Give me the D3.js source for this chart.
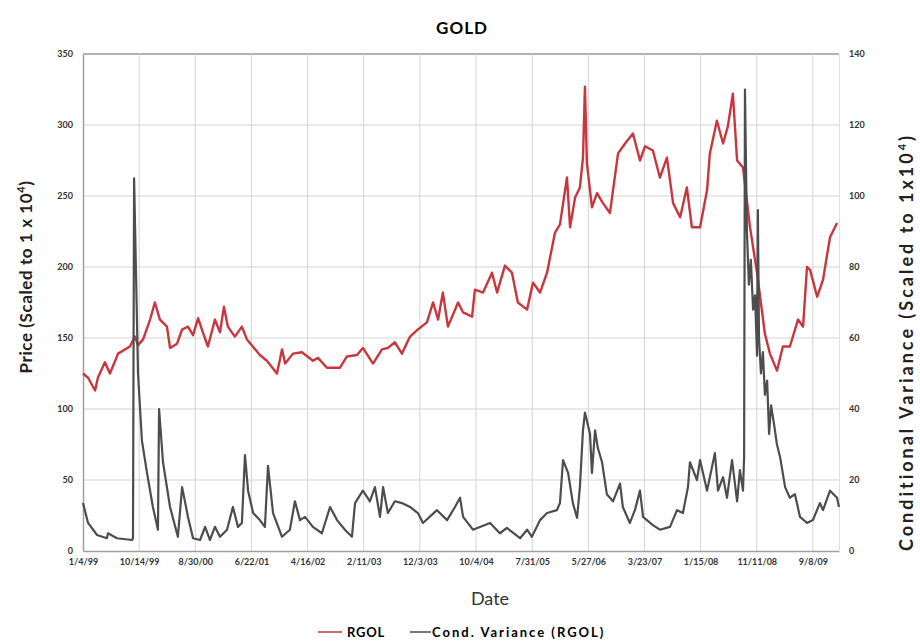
<!DOCTYPE html>
<html>
<head>
<meta charset="utf-8">
<script src="https://cdn.jsdelivr.net/npm/d3@7"></script>
<style>
  body { margin: 0; background: #fff; }
  text { font-family: Lato, "Open Sans", sans-serif; }
  .tick text { font-size: 9px; font-weight: bold; fill: #333; }
</style>
</head>
<body>
<script>
// x labels sit every 200 observations
var xTickLabels = ["1/4/99", "10/14/99", "8/30/00", "6/22/01", "4/16/02", "2/11/03", "12/3/03",
                   "10/4/04", "7/31/05", "5/27/06", "3/23/07", "1/15/08", "11/11/08", "9/8/09"];
var obsPerTick = 200;
var lastObs = 2693;

var leftTicks = [0, 50, 100, 150, 200, 250, 300, 350];
var rightTicks = [0, 20, 40, 60, 80, 100, 120, 140];

// RGOL price (left axis)
var priceDays = [0, 18, 43, 53, 78, 96, 125, 167, 185, 196, 214, 239, 256, 274, 299, 310, 335, 353, 374, 392,
  410, 427, 445, 470, 488, 502, 516, 541, 566, 584, 630, 655, 691, 709, 720, 748, 780, 819, 837, 869,
  915, 940, 976, 997, 1033, 1065, 1086, 1111, 1136, 1165, 1193, 1225, 1247, 1265, 1282, 1300, 1336, 1354, 1386, 1396,
  1425, 1457, 1475, 1503, 1528, 1549, 1582, 1603, 1628, 1653, 1681, 1699, 1724, 1735, 1753, 1770, 1781, 1788, 1795, 1813,
  1831, 1852, 1877, 1888, 1906, 1931, 1959, 1984, 2002, 2030, 2055, 2080, 2102, 2127, 2151, 2169, 2198, 2223, 2233, 2258,
  2280, 2297, 2315, 2330, 2351, 2376, 2401, 2429, 2447, 2472, 2493, 2518, 2547, 2565, 2579, 2590, 2615, 2636, 2661, 2686];
var priceValues = [125, 122, 113, 122, 133, 125, 139, 144, 151, 145, 149, 163, 175, 163, 158, 143, 146, 156, 158, 152,
  164, 154, 144, 163, 154, 172, 158, 151, 158, 149, 138, 134, 125, 142, 132, 139, 140, 134, 136, 129,
  129, 137, 138, 143, 132, 142, 143, 147, 139, 151, 156, 161, 175, 163, 182, 158, 175, 168, 165, 184,
  182, 196, 182, 201, 196, 175, 170, 189, 182, 196, 224, 230, 263, 228, 249, 256, 277, 327, 273, 242,
  252, 245, 238, 254, 280, 287, 294, 275, 285, 282, 263, 277, 245, 235, 256, 228, 228, 254, 280, 303,
  287, 299, 322, 275, 270, 228, 196, 153, 139, 127, 144, 144, 163, 158, 200, 198, 179, 191, 221, 231];

// conditional variance (right axis)
var varianceDays = [0, 18, 50, 85, 89, 121, 175, 178, 182, 196, 210, 228, 249, 267, 271, 285, 310, 338, 353, 363,
  374, 392, 417, 435, 452, 470, 488, 513, 534, 552, 566, 577, 588, 606, 630, 648, 659, 677, 709, 737,
  755, 773, 791, 819, 851, 880, 905, 933, 958, 969, 997, 1022, 1040, 1058, 1069, 1086, 1111, 1136, 1165, 1193,
  1211, 1261, 1297, 1325, 1343, 1354, 1389, 1450, 1485, 1510, 1557, 1582, 1599, 1628, 1653, 1688, 1699, 1710, 1728, 1745,
  1760, 1770, 1781, 1788, 1806, 1813, 1824, 1834, 1849, 1866, 1888, 1913, 1923, 1948, 1966, 1984, 1995, 2030, 2055, 2091,
  2116, 2137, 2155, 2162, 2187, 2198, 2223, 2251, 2262, 2280, 2294, 2312, 2330, 2340, 2351, 2355, 2358, 2365, 2372, 2379,
  2387, 2394, 2401, 2404, 2408, 2415, 2422, 2429, 2437, 2444, 2451, 2461, 2472, 2483, 2501, 2518, 2536, 2554, 2579, 2600,
  2625, 2636, 2661, 2686, 2693];
var varianceValues = [13.5, 7.9, 4.5, 3.6, 5, 3.6, 3.1, 3.6, 105, 50, 31, 22, 12.4, 6, 40, 25, 12.4, 4, 18, 14,
  9.6, 3.6, 3.1, 6.8, 3.1, 6.8, 4, 6, 12.4, 6.8, 7.9, 27, 17, 10.7, 8.7, 6.8, 24, 10.7, 4, 6,
  14, 8.7, 9.6, 6.8, 5, 12.4, 8.7, 6, 4, 13.5, 17, 14, 18, 9.6, 18, 10.7, 14, 13.5, 12.4, 10.7,
  7.9, 11.5, 8.7, 12.4, 15, 9.6, 6, 7.9, 5, 6.5, 3.6, 6, 4, 8.7, 10.7, 11.5, 13.5, 25.6, 22, 13.5,
  9.3, 18, 34, 39, 33, 22, 34, 29, 25, 16, 14, 19, 12.4, 7.9, 11.5, 17, 9.6, 7.3, 6, 6.8,
  11.5, 10.7, 18, 25, 20, 25.6, 17, 27.6, 17, 20.8, 15, 25.6, 14, 22.8, 17, 26.5, 130, 90, 75, 82,
  68, 72, 55, 96, 60, 50, 56, 44, 48, 33, 41, 36, 30, 26.5, 18, 15, 16, 9.6, 7.9, 8.7,
  13.5, 11.5, 17, 15, 12.4];

var width = 920,
    height = 644,
    marginLeft = 83,
    marginTop = 54,
    marginRight = 81,
    marginBottom = 93,
    chartWidth = width - marginLeft - marginRight,
    chartHeight = height - marginTop - marginBottom;

var svg = d3.select("body")
    .append("svg")
    .attr("width", width)
    .attr("height", height);

var chart = svg.append("g")
    .attr("transform", "translate(" + marginLeft + "," + marginTop + ")");

var xScale = d3.scaleLinear()
    .domain([0, lastObs])
    .range([0, chartWidth]);
var yLeft = d3.scaleLinear()
    .domain([0, 350])
    .range([chartHeight, 0]);
var yRight = d3.scaleLinear()
    .domain([0, 140])
    .range([chartHeight, 0]);

var tickObs = xTickLabels.map(function(d, i) { return i * obsPerTick; });

// grid
chart.append("g")
    .selectAll("line")
    .data(leftTicks.slice(1))
    .enter()
    .append("line")
        .attr("x1", 0)
        .attr("x2", chartWidth)
        .attr("y1", function(d) { return yLeft(d); })
        .attr("y2", function(d) { return yLeft(d); })
        .attr("stroke", function(d) { return d === 350 ? "#9a9a9a" : "#d4d4d4"; })
        .attr("stroke-width", function(d) { return d === 350 ? 1.5 : 1; });

chart.append("g")
    .selectAll("line")
    .data(tickObs.slice(1))
    .enter()
    .append("line")
        .attr("x1", function(d) { return xScale(d); })
        .attr("x2", function(d) { return xScale(d); })
        .attr("y1", 0)
        .attr("y2", chartHeight)
        .attr("stroke", "#d4d4d4");

// axes
var xAxis = d3.axisBottom(xScale)
    .tickValues(tickObs)
    .tickFormat(function(d, i) { return xTickLabels[i]; })
    .tickSize(0)
    .tickPadding(8);
chart.append("g")
    .attr("class", "x axis")
    .attr("transform", "translate(0," + chartHeight + ")")
    .call(xAxis);

var yAxisLeft = d3.axisLeft(yLeft)
    .tickValues(leftTicks)
    .tickSize(0)
    .tickPadding(10);
chart.append("g")
    .attr("class", "y axis")
    .call(yAxisLeft);

var yAxisRight = d3.axisRight(yRight)
    .tickValues(rightTicks)
    .tickSize(0)
    .tickPadding(10);
chart.append("g")
    .attr("class", "y axis right")
    .attr("transform", "translate(" + chartWidth + ",0)")
    .call(yAxisRight);

chart.selectAll(".axis path")
    .attr("stroke", "#a0a0a0")
    .attr("stroke-width", 1.5);
chart.select(".right path").attr("stroke", "#e0e0e0").attr("stroke-width", 1);

// lines
var priceData = priceDays.map(function(d, i) { return [d, priceValues[i]]; });
var varianceData = varianceDays.map(function(d, i) { return [d, varianceValues[i]]; });

var priceLine = d3.line()
    .x(function(d) { return xScale(d[0]); })
    .y(function(d) { return yLeft(d[1]); });
var varianceLine = d3.line()
    .x(function(d) { return xScale(d[0]); })
    .y(function(d) { return yRight(d[1]); });

chart.append("path")
    .datum(priceData)
    .attr("d", priceLine)
    .attr("fill", "none")
    .attr("stroke", "#c9363e")
    .attr("stroke-width", 2.4)
    .attr("stroke-linejoin", "round");

chart.append("path")
    .datum(varianceData)
    .attr("d", varianceLine)
    .attr("fill", "none")
    .attr("stroke", "#4d4d4d")
    .attr("stroke-width", 2.2)
    .attr("stroke-linejoin", "round");

// titles
svg.append("text")
    .attr("x", 462)
    .attr("y", 34)
    .attr("text-anchor", "middle")
    .style("font-size", "17px")
    .style("font-weight", "bold")
    .style("letter-spacing", "1px")
    .text("GOLD");

svg.append("text")
    .attr("x", 490)
    .attr("y", 605)
    .attr("text-anchor", "middle")
    .style("font-size", "18px")
    .style("fill", "#333")
    .text("Date");

var leftTitle = svg.append("text")
    .attr("transform", "translate(32,277) rotate(-90)")
    .attr("text-anchor", "middle")
    .style("font-size", "17px")
    .style("font-weight", "bold")
    .style("letter-spacing", "0.6px")
    .style("fill", "#222");
leftTitle.append("tspan").text("Price  (Scaled  to 1 x 10");
leftTitle.append("tspan").attr("dy", -7).style("font-size", "11px").text("4");
leftTitle.append("tspan").attr("dy", 7).text(")");

var rightTitle = svg.append("text")
    .attr("transform", "translate(913,342) rotate(-90)")
    .attr("text-anchor", "middle")
    .style("font-size", "18px")
    .style("font-weight", "bold")
    .style("letter-spacing", "3px")
    .style("fill", "#222");
rightTitle.append("tspan").text("Conditional Variance (Scaled to 1x10");
rightTitle.append("tspan").attr("dy", -7).style("font-size", "11px").text("4");
rightTitle.append("tspan").attr("dy", 7).text(")");

// legend
var legend = svg.append("g").attr("transform", "translate(318,632)");
legend.append("line")
    .attr("x1", 0).attr("x2", 24)
    .attr("stroke", "#c9363e").attr("stroke-width", 1.5);
legend.append("text")
    .attr("x", 29).attr("y", 4.5)
    .style("font-size", "13px").style("font-weight", "bold")
    .style("letter-spacing", "0.8px")
    .text("RGOL");
legend.append("line")
    .attr("x1", 92).attr("x2", 113)
    .attr("stroke", "#4d4d4d").attr("stroke-width", 1.5);
legend.append("text")
    .attr("x", 114).attr("y", 4.5)
    .style("font-size", "13px").style("font-weight", "bold")
    .style("letter-spacing", "2px")
    .text("Cond. Variance (RGOL)");
</script>
</body>
</html>
